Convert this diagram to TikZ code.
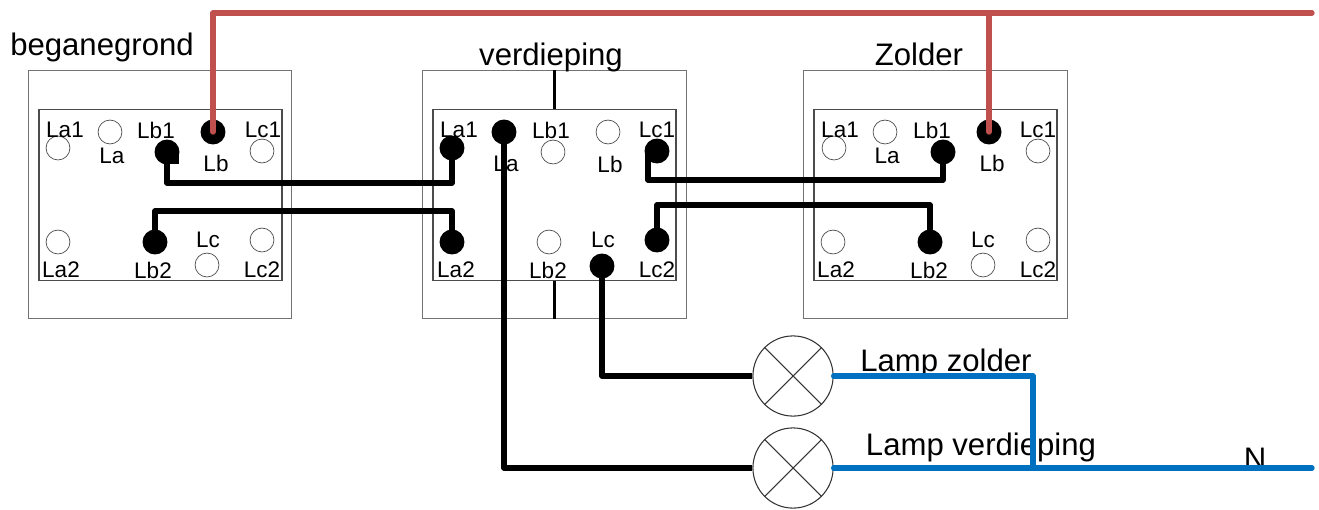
\documentclass[tikz,border=0pt]{standalone}
\usepackage{fontspec}
\setmainfont{Liberation Sans}
\definecolor{livered}{HTML}{C0504D}
\definecolor{neutralblue}{HTML}{0070C0}
\begin{document}
\begin{tikzpicture}[x=0.01cm,y=0.01cm]
        \tikzstyle{every node}+=[inner sep=0pt]
        \tikzstyle{outerplate}=[draw=black!55,line width=0.3pt,minimum width=75pt,minimum height=70.3pt]
        \tikzstyle{innerplate}=[draw=black!70,line width=0.3pt,minimum width=69.1pt,minimum height=48.4pt]
        \tikzstyle{openpin}=[circle,draw=black!70,line width=0.2pt,minimum size=6.8pt]
        \tikzstyle{fullpin}=[circle,fill=black,minimum size=7.1pt]
        \tikzstyle{pinlabel}=[font=\fontsize{6.4}{7}\selectfont,yshift=-0.28pt]
        \tikzstyle{biglabel}=[font=\fontsize{8.85}{10}\selectfont,anchor=base,yshift=-0.45pt]
        \tikzstyle{lamp}=[circle,draw=black!80,line width=0.3pt,minimum size=22.8pt]
        \tikzstyle{blackwire}=[black,line width=1.5pt,line join=round]
        \tikzstyle{redwire}=[livered,line width=1.5pt,line cap=round,line join=round]
        \tikzstyle{bluewire}=[neutralblue,line width=1.5pt,line cap=round,line join=round]
        \useasboundingbox (0,0) rectangle (1319,-509);
        % beganegrond
        \node [outerplate] (bgouter) at (160,-194.5) {};
        \node [innerplate] (bginner) at (160.5,-195) {};
        \draw (102,-54) node [biglabel] (bgname) {beganegrond};
        \draw (58,-148) node [openpin] (bgLa1) {};
        \draw (110,-132) node [openpin] (bgLa) {};
        \draw (167,-152) node [fullpin] (bgLb1) {};
        \draw (213,-132) node [fullpin] (bgLb) {};
        \draw (262,-151) node [openpin] (bgLc1) {};
        \draw (58,-242) node [openpin] (bgLa2) {};
        \draw (155,-242) node [fullpin] (bgLb2) {};
        \draw (207,-265) node [openpin] (bgLc) {};
        \draw (262,-240) node [openpin] (bgLc2) {};
        \draw (65,-129) node [pinlabel] (bgtLa1) {La1};
        \draw (112,-155) node [pinlabel] (bgtLa) {La};
        \draw (156,-129) node [pinlabel] (bgtLb1) {Lb1};
        \draw (216,-162) node [pinlabel] (bgtLb) {Lb};
        \draw (263,-129) node [pinlabel] (bgtLc1) {Lc1};
        \draw (61,-269) node [pinlabel] (bgtLa2) {La2};
        \draw (153,-269) node [pinlabel] (bgtLb2) {Lb2};
        \draw (208,-239) node [pinlabel] (bgtLc) {Lc};
        \draw (262,-269) node [pinlabel] (bgtLc2) {Lc2};
        % verdieping
        \node [outerplate] (vdouter) at (554.5,-194.5) {};
        \node [innerplate] (vdinner) at (554.5,-195) {};
        \draw (551,-64) node [biglabel] (vdname) {verdieping};
        \draw (452,-148) node [fullpin] (vdLa1) {};
        \draw (504,-132) node [fullpin] (vdLa) {};
        \draw (553,-152) node [openpin] (vdLb1) {};
        \draw (608,-132) node [openpin] (vdLb) {};
        \draw (657,-151) node [fullpin] (vdLc1) {};
        \draw (452,-242) node [fullpin] (vdLa2) {};
        \draw (549,-242) node [openpin] (vdLb2) {};
        \draw (602,-266) node [fullpin] (vdLc) {};
        \draw (657,-240) node [fullpin] (vdLc2) {};
        \draw (459,-129) node [pinlabel] (vdtLa1) {La1};
        \draw (506,-163) node [pinlabel] (vdtLa) {La};
        \draw (551,-129) node [pinlabel] (vdtLb1) {Lb1};
        \draw (610,-163) node [pinlabel] (vdtLb) {Lb};
        \draw (657,-129) node [pinlabel] (vdtLc1) {Lc1};
        \draw (456,-269) node [pinlabel] (vdtLa2) {La2};
        \draw (548,-269) node [pinlabel] (vdtLb2) {Lb2};
        \draw (603,-239) node [pinlabel] (vdtLc) {Lc};
        \draw (657,-269) node [pinlabel] (vdtLc2) {Lc2};
        % zolder
        \node [outerplate] (zdouter) at (935.5,-194.5) {};
        \node [innerplate] (zdinner) at (935.5,-195) {};
        \draw (919,-64) node [biglabel] (zdname) {Zolder};
        \draw (834,-148) node [openpin] (zdLa1) {};
        \draw (885,-132) node [openpin] (zdLa) {};
        \draw (943,-152) node [fullpin] (zdLb1) {};
        \draw (989,-132) node [fullpin] (zdLb) {};
        \draw (1038,-151) node [openpin] (zdLc1) {};
        \draw (833,-242) node [openpin] (zdLa2) {};
        \draw (930,-242) node [fullpin] (zdLb2) {};
        \draw (983,-265) node [openpin] (zdLc) {};
        \draw (1038,-240) node [openpin] (zdLc2) {};
        \draw (840,-129) node [pinlabel] (zdtLa1) {La1};
        \draw (887,-155) node [pinlabel] (zdtLa) {La};
        \draw (932,-129) node [pinlabel] (zdtLb1) {Lb1};
        \draw (992,-162) node [pinlabel] (zdtLb) {Lb};
        \draw (1038,-129) node [pinlabel] (zdtLc1) {Lc1};
        \draw (836,-269) node [pinlabel] (zdtLa2) {La2};
        \draw (929,-269) node [pinlabel] (zdtLb2) {Lb2};
        \draw (983,-239) node [pinlabel] (zdtLc) {Lc};
        \draw (1038,-269) node [pinlabel] (zdtLc2) {Lc2};
        % lamps
        \draw (793,-376) node [lamp] (lampzd) {};
        \draw (793,-468) node [lamp] (lampvd) {};
        \draw [black!80,line width=0.3pt] (lampzd.45) -- (lampzd.225);
        \draw [black!80,line width=0.3pt] (lampzd.135) -- (lampzd.-45);
        \draw [black!80,line width=0.3pt] (lampvd.45) -- (lampvd.225);
        \draw [black!80,line width=0.3pt] (lampvd.135) -- (lampvd.-45);
        \draw (946,-370) node [biglabel] (lampzdname) {Lamp zolder};
        \draw (981,-454) node [biglabel] (lampvdname) {Lamp verdieping};
        \draw (1255,-468) node [biglabel] (nname) {N};
        % wires
        \coordinate (livein) at (1312,-13);
        \coordinate (neutralin) at (1312,-468);
        \coordinate (livetap) at (989,-13);
        \coordinate (neutraltap) at (1033,-468);
        \draw [black,line width=0.8pt] (vdouter.north) -- (vdinner.north);
        \draw [black,line width=0.8pt] (vdinner.south) -- (vdouter.south);
        \fill (bgLb1.center) rectangle ++(12,-12);
        \draw [blackwire] (bgLb1.center) -- ++(0,-31) -| (vdLa1.center);
        \draw [blackwire] (bgLb2.center) -- ++(0,31) -| (vdLa2.center);
        \draw [blackwire] (648,-151) -- (648,-180) -| (zdLb1.center);
        \draw [blackwire] (vdLc2.center) -- ++(0,35) -| (zdLb2.center);
        \draw [blackwire] (vdLa.center) |- (lampvd.west);
        \draw [blackwire] (vdLc.center) |- (lampzd.west);
        \draw [redwire] (bgLb.center) |- (livein);
        \draw [redwire] (zdLb.center) -- (livetap);
        \draw [bluewire] (lampzd.east) -- (1033,-376) -- (neutraltap);
        \draw [bluewire] (lampvd.east) -- (neutralin);
\end{tikzpicture}
\end{document}
